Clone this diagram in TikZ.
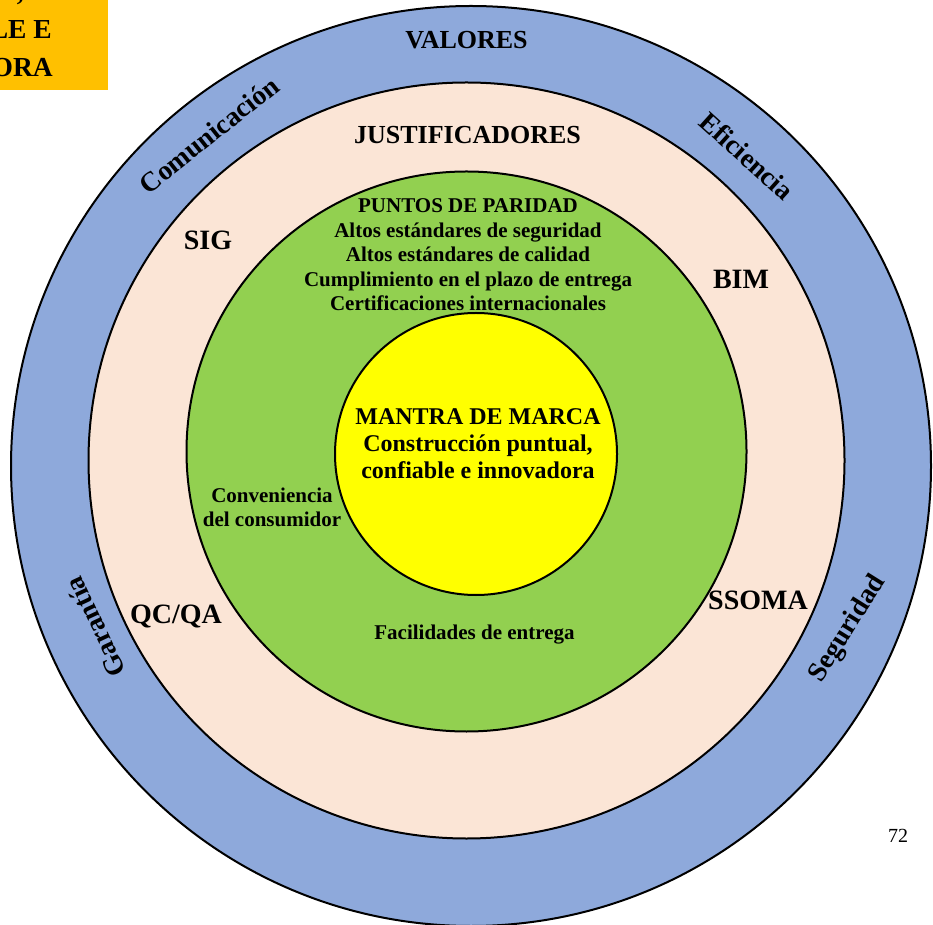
\documentclass[tikz,border=0pt]{standalone}
\usepackage{fontspec}
\setmainfont{Liberation Serif}
\usetikzlibrary{positioning}
\definecolor{valblue}{HTML}{8EA9DB}
\definecolor{justpeach}{HTML}{FBE5D6}
\definecolor{paridgreen}{HTML}{92D050}
\definecolor{mantrayellow}{HTML}{FFFF00}
\definecolor{tagorange}{HTML}{FFC000}
\tikzset{
  ring/.style={circle, draw=black, line width=2pt, inner sep=0pt},
  head/.style={font=\bfseries\fontsize{26}{30}\selectfont, inner sep=0pt},
  item/.style={font=\bfseries\fontsize{21}{24.5}\selectfont, align=center, inner sep=0pt},
  tool/.style={font=\bfseries\fontsize{28}{30}\selectfont, inner sep=0pt},
  side/.style={font=\bfseries\fontsize{27.5}{30}\selectfont, inner sep=0pt},
}

\begin{document}
\begin{tikzpicture}[x=1pt, y=1pt]
  \useasboundingbox (0,0) rectangle (933,924);

  % rings
  \node (valores) [ring, fill=valblue, minimum size=920pt] at (471,458) {};
  \node (justif) [ring, fill=justpeach, minimum size=756pt] at (466.5,463.5) {};
  \node (paridad) [ring, fill=paridgreen, minimum size=560pt] at (466.5,472.5) {};
  \node (mantra) [ring, fill=mantrayellow, minimum size=282pt] at (476,470) {};

  % headings
  \node (tval) [head, anchor=base] at (466.5,875.7) {VALORES};
  \node (tjust) [head, anchor=base] at (467.5,780.7) {JUSTIFICADORES};

  % values on the outer ring
  \node (com) [side, rotate=38.5] at (209,789) {Comunicación};
  \node (efi) [side, rotate=-42] at (747,768) {Eficiencia};
  \node (seg) [side, rotate=58] at (848,295) {Seguridad};
  \node (gar) [side, rotate=115] at (95,297) {Garantía};

  % justificadores
  \node (sig) [tool, anchor=base] at (208,674) {SIG};
  \node (bim) [tool, anchor=base] at (741,635) {BIM};
  \node (qcqa) [tool, anchor=base] at (176,301) {QC/QA};
  \node (ssoma) [tool, anchor=base] at (758,315) {SSOMA};

  % puntos de paridad
  \node (ppar) [item] at (468,669) {PUNTOS DE PARIDAD\\Altos estándares de seguridad\\Altos estándares de calidad\\Cumplimiento en el plazo de entrega\\Certificaciones internacionales};
  \node (conv) [item] at (272,416.5) {Conveniencia\\del consumidor};
  \node (facil) [item, anchor=base] at (474.5,285) {Facilidades de entrega};

  % mantra
  \node (tmantra) [item, font=\bfseries\fontsize{24}{27}\selectfont] at (478,480) {MANTRA DE MARCA\\Construcción puntual,\\confiable e innovadora};

  % page number
  \node (page) [font=\fontsize{20}{24}\selectfont, inner sep=0pt, anchor=base] at (898,82) {72};

  % cut tag in the corner
  \fill[tagorange] (0,834) rectangle (108,924);
  \begin{scope}
    \clip (0,834) rectangle (108,924);
    \node (tag1) [side, anchor=base east] at (24,923) {,};
    \node (tag2) [side, anchor=base east] at (52,885) {LE E};
    \node (tag3) [side, anchor=base east] at (53,847) {ORA};
  \end{scope}
\end{tikzpicture}
\end{document}
